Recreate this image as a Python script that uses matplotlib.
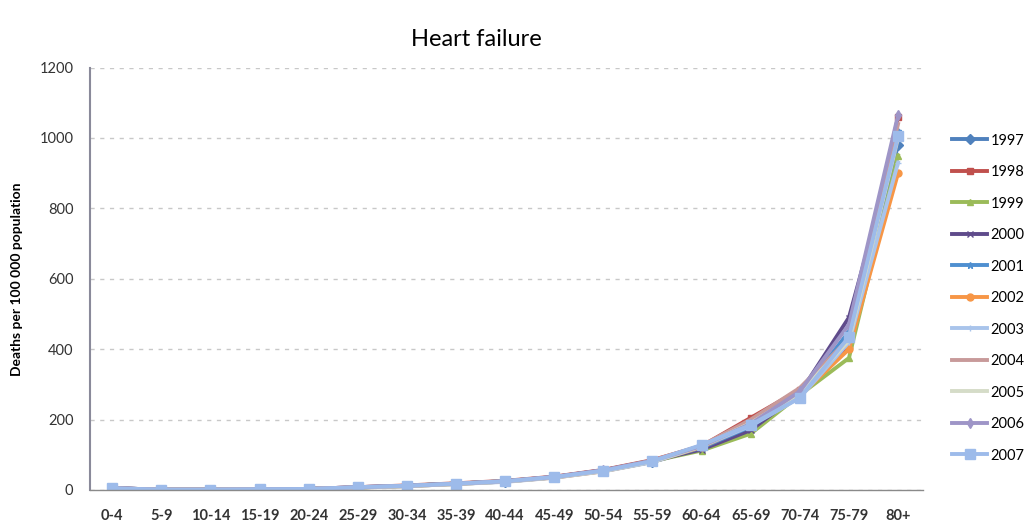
import matplotlib
matplotlib.use("Agg")
import matplotlib.pyplot as plt

categories = ["0-4", "5-9", "10-14", "15-19", "20-24", "25-29", "30-34", "35-39",
              "40-44", "45-49", "50-54", "55-59", "60-64", "65-69", "70-74", "75-79", "80+"]
years = ["1997", "1998", "1999", "2000", "2001", "2002", "2003", "2004", "2005", "2006", "2007"]

s1997 = [5, 1, 1, 2, 3, 7, 11, 17, 24, 36, 54, 80, 118, 180, 280, 440, 980]
s1998 = [5, 1, 1, 2, 3, 8, 13, 19, 26, 38, 57, 85, 125, 205, 285, 410, 1060]
s1999 = [4, 1, 1, 2, 3, 7, 12, 18, 25, 36, 55, 82, 112, 160, 270, 375, 950]
s2000 = [5, 1, 1, 2, 3, 8, 12, 18, 25, 37, 56, 83, 115, 170, 275, 490, 1000]
s2001 = [5, 1, 1, 2, 3, 7, 12, 18, 24, 36, 55, 82, 120, 180, 270, 450, 1020]
s2002 = [4, 1, 1, 2, 3, 7, 11, 17, 24, 35, 53, 80, 122, 185, 268, 400, 900]
s2003 = [4, 1, 1, 2, 3, 7, 11, 17, 23, 35, 53, 79, 124, 182, 262, 420, 930]
s2004 = [5, 1, 1, 2, 3, 8, 12, 18, 25, 37, 56, 84, 126, 200, 290, 430, 1040]
s2005 = [4, 1, 1, 2, 3, 7, 11, 17, 24, 36, 54, 81, 124, 190, 275, 425, 1000]
s2006 = [5, 1, 1, 2, 3, 8, 12, 18, 25, 37, 56, 83, 125, 188, 280, 470, 1065]
s2007 = [5, 1, 1, 2, 3, 8, 12, 18, 25, 37, 55, 82, 128, 185, 262, 435, 1005]

series = [s1997, s1998, s1999, s2000, s2001, s2002, s2003, s2004, s2005, s2006, s2007]
colors = ["#4F81BD", "#C0504D", "#9BBB59", "#5F4B8B", "#4F8FD0", "#F79646",
          "#A9C4EB", "#C89A9A", "#D5DCC8", "#9E95C7", "#9DBBEA"]
markers = ["D", "s", "^", "x", "*", "o", "+", "", "", "d", "s"]

plt.rcParams['font.family'] = ['Lato', 'DejaVu Sans']

fig = plt.figure(figsize=(10.24, 5.28), dpi=100)
ax = fig.add_axes([0.088, 0.072, 0.813, 0.8])

x = list(range(len(categories)))
for yr, vals, c, m in zip(years, series, colors, markers):
    ms = 7 if m == "s" and yr == "2007" else 5
    ax.plot(x, vals, color=c, marker=m if m else None, markersize=ms,
            linewidth=2.8, label=yr, markeredgecolor=c)

ax.set_xlim(-0.45, 16.5)
ax.set_ylim(0, 1200)
ax.set_yticks(range(0, 1201, 200))
ax.set_xticks(x)
ax.set_xticklabels(categories, fontsize=10.5, color="#333333", fontweight="bold")
ax.tick_params(axis='y', labelsize=10.5, colors="#333333", length=0, pad=12)
ax.tick_params(axis='x', length=0, pad=14)
ax.yaxis.grid(True, linestyle=(0, (3, 4)), color="#c8c8c8", linewidth=1)
ax.set_axisbelow(True)
for s in ["top", "right"]:
    ax.spines[s].set_visible(False)
ax.spines["left"].set_color("#8a8a9a")
ax.spines["left"].set_linewidth(1.5)
ax.spines["bottom"].set_color("#8a8a8a")
ax.spines["bottom"].set_linewidth(1)

ax.set_ylabel("Deaths per 100 000 population", fontsize=10, fontweight="bold", labelpad=12)
fig.text(0.465, 0.925, "Heart failure", ha="center", va="center", fontsize=17)

leg = ax.legend(loc="upper left", bbox_to_anchor=(1.02, 0.875), frameon=False,
                fontsize=10.5, handlelength=2.4, labelspacing=1.2, handletextpad=0.2)

fig.savefig("out.png", dpi=100)
